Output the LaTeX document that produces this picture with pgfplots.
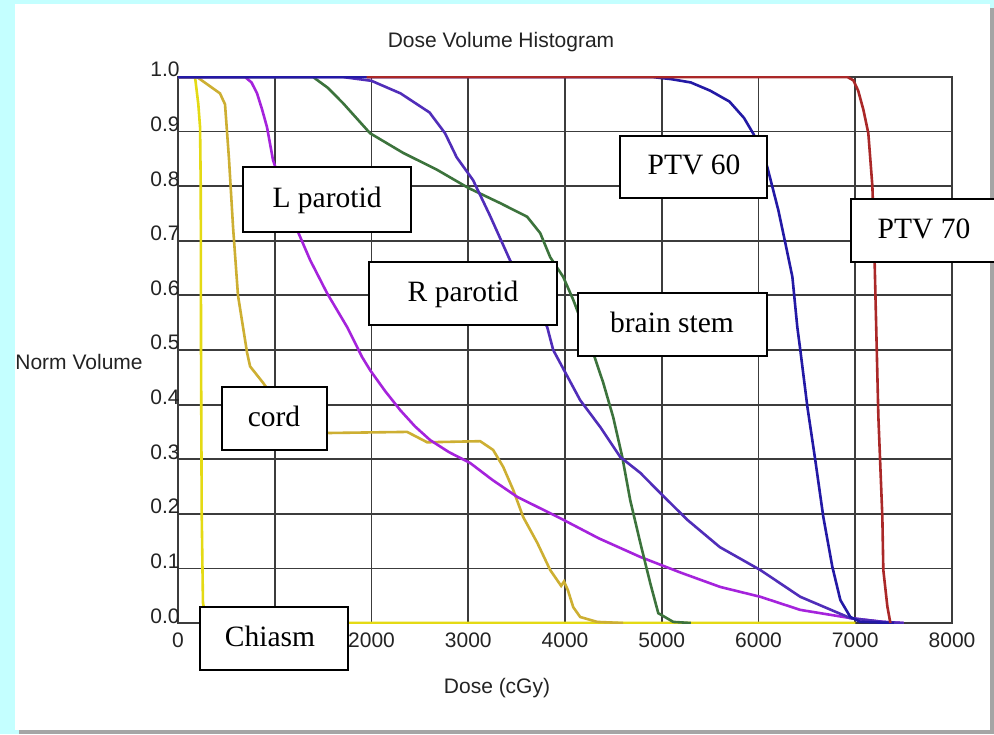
\documentclass[border=0pt]{standalone}
\usepackage{fontspec}
\setmainfont{Liberation Serif}
\setsansfont{Liberation Sans}
\usepackage{pgfplots}
\pgfplotsset{compat=1.18}
\definecolor{bgcyan}{RGB}{196,255,255}
\definecolor{shadowgrey}{RGB}{165,165,165}
\definecolor{gridgrey}{RGB}{60,60,60}
\definecolor{labelgrey}{RGB}{35,35,35}
\definecolor{cPTVseventy}{RGB}{170,40,40}
\definecolor{cPTVsixty}{RGB}{35,25,165}
\definecolor{cRpar}{RGB}{80,45,185}
\definecolor{cLpar}{RGB}{165,35,220}
\definecolor{cbrain}{RGB}{60,115,60}
\definecolor{ccord}{RGB}{205,175,50}
\definecolor{cchiasm}{RGB}{228,218,20}
\newcommand{\axfont}{\sffamily\fontsize{10.5}{12}\selectfont}
\newcommand{\boxfont}{\rmfamily\fontsize{14.75}{17}\selectfont}
\begin{document}
\begin{tikzpicture}[x=0.5pt,y=0.5pt]
\useasboundingbox (0,0) rectangle (994,734);
\fill[bgcyan] (0,0) rectangle (994,734);
\fill[shadowgrey] (19,0) rectangle (994,726);
\fill[white] (15,4) rectangle (990,730);
\begin{axis}[at={(89pt,55.5pt)}, anchor=south west, scale only axis,
  width=387pt, height=273pt,
  xmin=0, xmax=8000, ymin=0, ymax=1,
  xtick={0,1000,2000,3000,4000,5000,6000,7000,8000},
  ytick={0,0.1,0.2,0.3,0.4,0.5,0.6,0.7,0.8,0.9,1},
  grid=major, grid style={gridgrey, line width=0.9pt},
  axis line style={gridgrey, line width=0.9pt},
  major tick length=0pt,
  tick label style={font=\axfont, text=labelgrey},
  /pgf/number format/assume math mode=true,
  yticklabel style={/pgf/number format/fixed, /pgf/number format/fixed zerofill,
     /pgf/number format/precision=1, anchor=base east, inner sep=0pt, xshift=1pt},
  xticklabel style={/pgf/number format/set thousands separator={}, anchor=north, inner sep=0pt, yshift=-4.5pt},
  clip=true]
% Chiasm
\addplot[cchiasm, line width=1.3pt] coordinates {(0,1) (176,1) (210,0.95) (228,0.908) (235,0.8) (238,0.5) (245,0.2) (258,0.037) (300,0) (7000,0)};
% cord
\addplot[ccord, line width=1.3pt] coordinates {(0,1) (196,1) (434,0.97) (486,0.95) (527,0.85) (569,0.725) (620,0.60) (714,0.495) (745,0.47) (879,0.44) (1000,0.41) (1158,0.38) (1365,0.355) (1561,0.348) (2368,0.35) (2575,0.331) (3123,0.333) (3257,0.317) (3361,0.286) (3464,0.244) (3568,0.194) (3713,0.147) (3847,0.097) (3960,0.068) (3990,0.076) (4030,0.06) (4085,0.029) (4157,0.011) (4333,0.002) (4600,0)};
% L parotid
\addplot[cLpar, line width=1.3pt] coordinates {(0,1) (693,1) (760,0.99) (817,0.97) (870,0.94) (920,0.908) (982,0.848) (1100,0.785) (1241,0.716) (1365,0.665) (1541,0.604) (1748,0.542) (1903,0.487) (1986,0.463) (2140,0.425) (2296,0.390) (2450,0.36) (2606,0.335) (2800,0.313) (3020,0.293) (3250,0.262) (3506,0.231) (3950,0.192) (4350,0.155) (4778,0.121) (5200,0.092) (5605,0.066) (6019,0.048) (6432,0.024) (6949,0.009) (7290,0.002) (7500,0)};
% brain stem
\addplot[cbrain, line width=1.3pt] coordinates {(0,1) (1396,1) (1550,0.98) (1706,0.952) (1985,0.897) (2327,0.861) (2678,0.83) (2999,0.797) (3330,0.769) (3609,0.744) (3744,0.714) (3847,0.670) (3981,0.634) (4085,0.592) (4281,0.5) (4395,0.44) (4498,0.377) (4592,0.304) (4674,0.225) (4778,0.147) (4881,0.073) (4964,0.018) (5119,0.002) (5300,0)};
% R parotid
\addplot[cRpar, line width=1.3pt] coordinates {(0,1) (1700,1) (2000,0.993) (2300,0.97) (2600,0.935) (2760,0.897) (2880,0.853) (3050,0.811) (3230,0.744) (3430,0.665) (3816,0.542) (3878,0.5) (4157,0.408) (4364,0.359) (4571,0.304) (4778,0.275) (4985,0.238) (5264,0.189) (5600,0.139) (6019,0.097) (6432,0.048) (6949,0.009) (7290,0.002) (7500,0)};
% PTV 60
\addplot[cPTVsixty, line width=1.3pt] coordinates {(0,1) (4900,1) (5100,0.996) (5300,0.99) (5500,0.975) (5700,0.955) (5850,0.925) (5950,0.895) (6050,0.855) (6091,0.835) (6205,0.756) (6277,0.696) (6350,0.634) (6401,0.542) (6432,0.5) (6505,0.396) (6587,0.298) (6670,0.194) (6763,0.103) (6846,0.042) (6949,0.011) (7053,0.002) (7400,0)};
% PTV 70
\addplot[cPTVseventy, line width=1.3pt] coordinates {(1950,1) (6918,1) (6980,0.994) (7030,0.975) (7084,0.94) (7135,0.897) (7177,0.80) (7195,0.70) (7208,0.604) (7239,0.377) (7280,0.194) (7290,0.097) (7332,0.03) (7363,0)};
\end{axis}
\node[font=\axfont, text=labelgrey] at (501,692) {Dose Volume Histogram};
\node[font=\axfont, text=labelgrey, anchor=west, inner sep=0pt] at (15,372) {Norm Volume};
\node[font=\axfont, text=labelgrey] at (497,46) {Dose (cGy)};
\begin{scope}[every node/.style={font=\boxfont, anchor=base, inner sep=0pt}]
\filldraw[fill=white, draw=black, line width=1pt] (243,502) rectangle (411,567);
\node at (327,526.5) {L parotid};
\filldraw[fill=white, draw=black, line width=1pt] (369,409) rectangle (557,472);
\node at (463,432.5) {R parotid};
\filldraw[fill=white, draw=black, line width=1pt] (620,536) rectangle (767,598);
\node at (694,559) {PTV 60};
\filldraw[fill=white, draw=black, line width=1pt] (851,472) rectangle (1000,535);
\node at (924,495.5) {PTV 70};
\filldraw[fill=white, draw=black, line width=1pt] (578,378) rectangle (767,441);
\node at (672,401.5) {brain stem};
\filldraw[fill=white, draw=black, line width=1pt] (222,284) rectangle (327,347);
\node at (274,307.5) {cord};
\filldraw[fill=white, draw=black, line width=1pt] (200,64) rectangle (348,127);
\node at (270,87.5) {Chiasm};
\end{scope}
\end{tikzpicture}
\end{document}
